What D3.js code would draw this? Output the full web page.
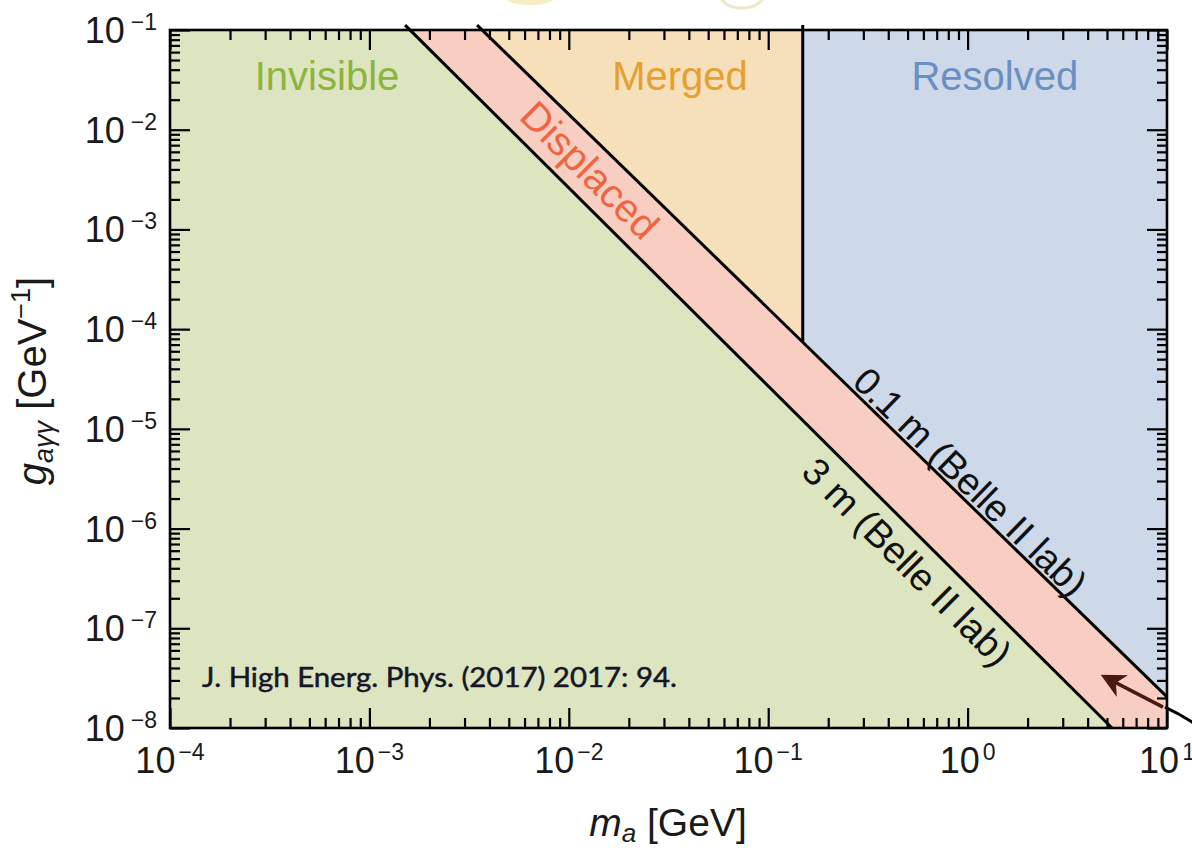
<!DOCTYPE html>
<html><head><meta charset="utf-8">
<script src="https://cdn.jsdelivr.net/npm/d3@7"></script>
<style>body{margin:0;background:#fff} svg{display:block}</style>
</head><body>
<svg id="chart" width="1192" height="851"></svg>
<script>
// ---- data ----
const massTicks = [1e-4, 1e-3, 1e-2, 1e-1, 1, 10];
const massTickExp = ["−4", "−3", "−2", "−1", "0", "1"];
const couplingTicks = [1e-8, 1e-7, 1e-6, 1e-5, 1e-4, 1e-3, 1e-2, 1e-1];
const couplingTickExp = ["−8", "−7", "−6", "−5", "−4", "−3", "−2", "−1"];
const massDomain = [1e-4, 10];
const couplingDomain = [1e-8, 1e-1];
// decay-length contours [m_a (GeV), g (GeV^-1)]
const line3m = [[1.51e-3, 0.112], [5.30, 1e-8]];
const line01m = [[3.47e-3, 0.112], [10, 2.05e-8]];
const mergedResolvedMass = 0.149;
const regionNames = ["Invisible", "Merged", "Resolved"];
const regionLabelMass = [6.13e-4, 0.0361, 1.37];
const regionLabelCoupling = 0.025;
const displacedLabel = [0.01276, 3.94e-3];
const label01m = [1.03, 2.93e-6];
const label3m = [0.497, 4.62e-7];
const arrowTail = [9.55, 1.62e-8];
const arrowHead = [4.89, 3.24e-8];

// ---- layout ----
const W = 1192, H = 851;
const plot = {left: 170, right: 1167, top: 30, bottom: 728};
const svg = d3.select("#chart");
const x = d3.scaleLog().domain(massDomain).range([plot.left, plot.right]);
const y = d3.scaleLog().domain(couplingDomain).range([plot.bottom, plot.top]);
const FONT = "'Liberation Sans', Arial, Helvetica, sans-serif";

// interpolate g on a log-log line at mass m
function gOnLine(line, m) {
  const [a, b] = line;
  const t = (Math.log10(m) - Math.log10(a[0])) / (Math.log10(b[0]) - Math.log10(a[0]));
  return Math.pow(10, Math.log10(a[1]) + t * (Math.log10(b[1]) - Math.log10(a[1])));
}
const edgeG = gOnLine(line01m, mergedResolvedMass);
const topG = line01m[0][1];

const defs = svg.append("defs");
defs.append("clipPath").attr("id", "plotclip")
  .append("rect").attr("x", plot.left).attr("y", plot.top)
  .attr("width", plot.right - plot.left).attr("height", plot.bottom - plot.top);

const path = d3.line().x(d => x(d[0])).y(d => y(d[1]));
const regions = svg.append("g").attr("clip-path", "url(#plotclip)");

const polyInvisible = [[1e-4, topG], line3m[0], line3m[1], [1e-4, 1e-8]];
const polyDisplaced = [line3m[0], line01m[0], line01m[1], [10, 1e-8], line3m[1]];
const polyMerged = [line01m[0], [mergedResolvedMass, topG], [mergedResolvedMass, edgeG]];
const polyResolved = [[mergedResolvedMass, topG], [10, topG], line01m[1], [mergedResolvedMass, edgeG]];

regions.append("path").attr("d", path(polyInvisible) + "Z").attr("fill", "#dde5c0");
regions.append("path").attr("d", path(polyDisplaced) + "Z").attr("fill", "#f8cec2");
regions.append("path").attr("d", path(polyMerged) + "Z").attr("fill", "#f6e0b9");
regions.append("path").attr("d", path(polyResolved) + "Z").attr("fill", "#cdd8e8");

// faint cropped shapes at very top
svg.append("ellipse").attr("cx", 530).attr("cy", -2).attr("rx", 24).attr("ry", 7).attr("fill", "#f4edc6");
svg.append("ellipse").attr("cx", 742).attr("cy", -6).attr("rx", 22).attr("ry", 14).attr("fill", "none")
  .attr("stroke", "#efe6c8").attr("stroke-width", 3);

// axes with inward ticks
function minorsFor(decades) {
  const out = [];
  for (let i = 0; i < decades.length - 1; i++) for (let k = 2; k <= 9; k++) out.push(decades[i] * k);
  return out;
}
const massAll = massTicks.concat(minorsFor(massTicks));
const coupAll = couplingTicks.concat(minorsFor(couplingTicks));
const isMajor = v => Math.abs(Math.log10(v) - Math.round(Math.log10(v))) < 1e-9;

function styleAxis(g, sign, horiz) {
  g.select(".domain").remove();
  g.selectAll(".tick line").attr("stroke", "#000").attr("stroke-width", 2.2)
    .each(function(d) {
      if (isMajor(d)) d3.select(this).attr(horiz ? "y2" : "x2", sign * 20);
    });
  g.selectAll(".tick text").remove();
}
svg.append("g").attr("transform", `translate(0,${plot.bottom})`)
  .call(d3.axisBottom(x).tickValues(massAll).tickSize(-10).tickFormat(""))
  .call(g => styleAxis(g, -1, true));
svg.append("g").attr("transform", `translate(0,${plot.top})`)
  .call(d3.axisTop(x).tickValues(massAll).tickSize(-10).tickFormat(""))
  .call(g => styleAxis(g, 1, true));
svg.append("g").attr("transform", `translate(${plot.left},0)`)
  .call(d3.axisLeft(y).tickValues(coupAll).tickSize(-10).tickFormat(""))
  .call(g => styleAxis(g, 1, false));
svg.append("g").attr("transform", `translate(${plot.right},0)`)
  .call(d3.axisRight(y).tickValues(coupAll).tickSize(-10).tickFormat(""))
  .call(g => styleAxis(g, -1, false));

// contour lines
const lines = svg.append("g").attr("fill", "none").attr("stroke", "#000").attr("stroke-width", 3);
lines.append("path").attr("d", path(line3m));
lines.append("path").attr("d", path(line01m));
lines.append("path").attr("d", path([[mergedResolvedMass, topG], [mergedResolvedMass, edgeG]]));

// frame
svg.append("rect").attr("x", plot.left).attr("y", plot.top)
  .attr("width", plot.right - plot.left).attr("height", plot.bottom - plot.top)
  .attr("fill", "none").attr("stroke", "#000").attr("stroke-width", 2.6);

// tick labels
function powLabel(sel, exp, gap) {
  sel.append("tspan").text("10");
  sel.append("tspan").attr("font-size", 23).attr("dy", -13).attr("dx", gap).text(exp);
}
massTicks.forEach((v, i) => {
  svg.append("text").attr("x", x(v)).attr("y", 773).attr("text-anchor", "middle")
    .attr("font-family", FONT).attr("font-size", 36).attr("fill", "#1a1a1a")
    .call(s => powLabel(s, massTickExp[i], 3));
});
couplingTicks.forEach((v, i) => {
  svg.append("text").attr("x", 157).attr("y", y(v) + 13).attr("text-anchor", "end")
    .attr("font-family", FONT).attr("font-size", 36).attr("fill", "#1a1a1a")
    .call(s => powLabel(s, couplingTickExp[i], 6));
});

// axis titles
const xt = svg.append("text").attr("x", 668).attr("y", 836).attr("text-anchor", "middle")
  .attr("font-family", FONT).attr("font-size", 39).attr("fill", "#1a1a1a");
xt.append("tspan").attr("font-style", "italic").text("m");
xt.append("tspan").attr("font-style", "italic").attr("font-size", 26).attr("dy", 6).text("a");
xt.append("tspan").attr("dy", -6).text(" [GeV]");

const yt = svg.append("text").attr("transform", "translate(46,381) rotate(-90)").attr("text-anchor", "middle")
  .attr("font-family", FONT).attr("font-size", 40).attr("fill", "#1a1a1a");
yt.append("tspan").attr("font-style", "italic").text("g");
yt.append("tspan").attr("font-style", "italic").attr("font-size", 27).attr("dy", 7).text("aγγ");
yt.append("tspan").attr("dy", -7).text(" [GeV");
yt.append("tspan").attr("font-size", 27).attr("dy", -16).text("−1");
yt.append("tspan").attr("dy", 16).text("]");

// region labels
const regionColors = ["#8db43c", "#e6a032", "#6a8fc3"];
regionNames.forEach((n, i) => {
  svg.append("text").attr("x", x(regionLabelMass[i])).attr("y", y(regionLabelCoupling))
    .attr("text-anchor", "middle").attr("font-family", FONT).attr("font-size", 40)
    .attr("fill", regionColors[i]).text(n);
});

// rotated labels along contours
function angleOf(line) {
  return Math.atan2(y(line[1][1]) - y(line[0][1]), x(line[1][0]) - x(line[0][0])) * 180 / Math.PI;
}
function rotLabel(pos, line, txt, color, size) {
  svg.append("text")
    .attr("transform", `translate(${x(pos[0])},${y(pos[1])}) rotate(${angleOf(line)})`)
    .attr("text-anchor", "middle").attr("dominant-baseline", "central")
    .attr("font-family", FONT).attr("font-size", size).attr("fill", color).text(txt);
}
rotLabel(displacedLabel, line3m, "Displaced", "#ee6541", 40);
rotLabel(label01m, line01m, "0.1 m (Belle II lab)", "#111", 38);
rotLabel(label3m, line3m, "3 m (Belle II lab)", "#111", 38);

// citation
svg.append("text").attr("x", plot.left + 32).attr("y", 687)
  .attr("font-family", "Lato, 'Open Sans', sans-serif").attr("font-size", 27).attr("fill", "#161628")
  .attr("stroke", "#161628").attr("stroke-width", 0.5)
  .attr("textLength", 475).attr("lengthAdjust", "spacingAndGlyphs")
  .text("J. High Energ. Phys. (2017) 2017: 94.");

// arrow annotation
defs.append("marker").attr("id", "ah").attr("viewBox", "0 0 10 10")
  .attr("refX", 8).attr("refY", 5).attr("markerWidth", 7).attr("markerHeight", 7)
  .attr("markerUnits", "strokeWidth").attr("orient", "auto")
  .append("path").attr("d", "M0,0 L10,5 L0,10 L3,5 Z").attr("fill", "#4a1a12");
svg.append("path").attr("d", path([arrowTail, arrowHead]))
  .attr("stroke", "#4a1a12").attr("stroke-width", 3.5).attr("fill", "none")
  .attr("marker-end", "url(#ah)");
svg.append("path").attr("d", `M${plot.right - 2},${y(arrowTail[1])} Q1180,714 1195,724`)
  .attr("stroke", "#000").attr("stroke-width", 3).attr("fill", "none");
</script>
</body></html>
